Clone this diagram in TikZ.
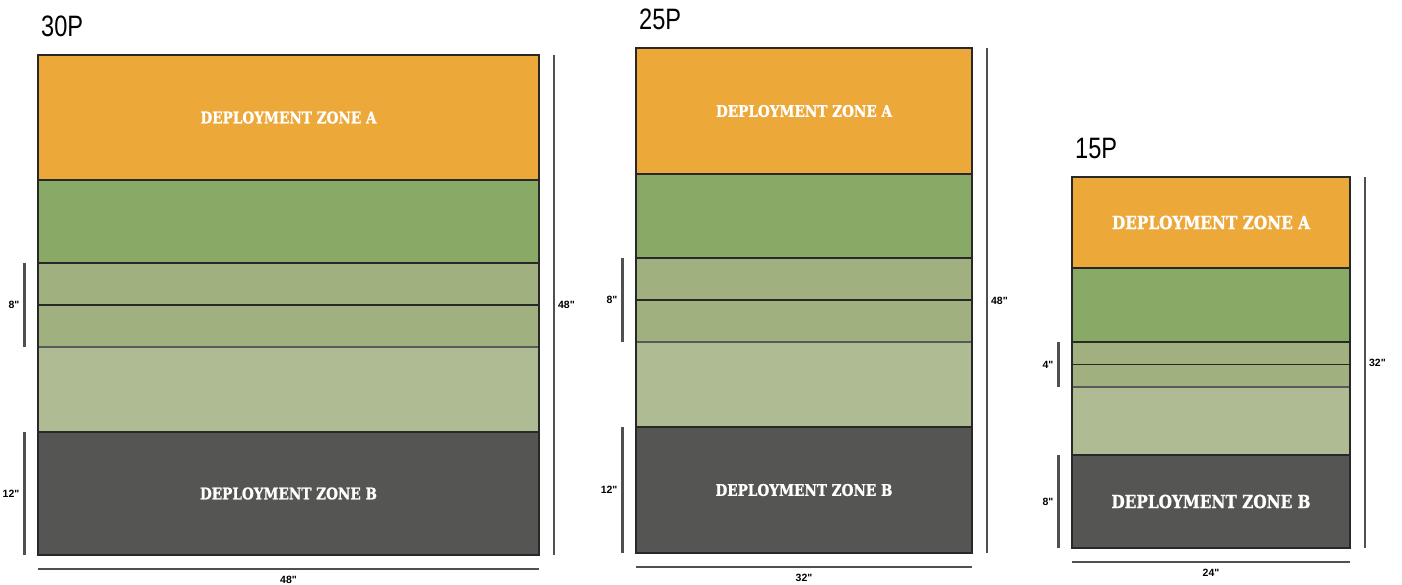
\documentclass[tikz,border=0pt]{standalone}
\usepackage{fontspec}
\usepackage{xcolor}
\usepackage{tikz}
\usetikzlibrary{positioning, calc}
\newfontfamily\titlefont[FakeStretch=0.8]{Liberation Sans}
\newfontfamily\zonefont[FakeStretch=0.85, BoldFeatures={FakeBold=1.2}]{DejaVu Serif}
\newfontfamily\dimfont{Liberation Sans}
\definecolor{zonea}{RGB}{237, 168, 58}
\definecolor{midfield}{RGB}{136, 170, 102}
\definecolor{lanes}{RGB}{160, 176, 126}
\definecolor{openfield}{RGB}{174, 187, 147}
\definecolor{zoneb}{RGB}{85, 85, 84}
\definecolor{edge}{RGB}{40, 40, 40}
\definecolor{dimgray}{RGB}{80, 80, 80}

\begin{document}
\begin{tikzpicture}[
    x=1pt, y=-1pt,
    band/.style={rectangle, inner sep=0pt, outer sep=0pt, minimum width=#1},
    zonetext/.style={text=white, font=\zonefont\bfseries},
    sep/.style={draw=edge, line width=1.4pt},
    softsep/.style={draw=gray!70!black, line width=2.2pt},
    frame/.style={draw=edge, line width=1.7pt},
    dim/.style={draw=dimgray, line width=2.2pt},
    dimlabel/.style={font=\dimfont\bfseries\fontsize{10.5}{11}\selectfont, inner sep=0pt},
    title/.style={font=\titlefont\fontsize{29.5}{30}\selectfont, inner sep=0pt, anchor=base west}
]
    \useasboundingbox (0,0) rectangle (1402,584);

    % name/x/y/width/band heights/font size/dimensions
    \foreach \nm/\lx/\ty/\bw/\ha/\hg/\hl/\hp/\hb/\fs/\dl/\db/\dr/\dw in {
        30/38/55/501/125/83/42/85/123/16/8"/12"/48"/48",
        25/636/48/336/126/84/42/85/126/16/8"/12"/48"/32",
        15/1072/177/278/91/74/22.5/68/93/18/4"/8"/32"/24"} {

        % Bands, top to bottom
        \node[band=\bw, minimum height=\ha, fill=zonea, zonetext, anchor=north west] (za\nm) at (\lx,\ty)
            {\fontsize{\fs}{\fs}\selectfont DEPLOYMENT ZONE A};
        \node[band=\bw, minimum height=\hg, fill=midfield, below=0pt of za\nm] (mid\nm) {};
        \node[band=\bw, minimum height=\hl, fill=lanes, below=0pt of mid\nm] (lnA\nm) {};
        \node[band=\bw, minimum height=\hl, fill=lanes, below=0pt of lnA\nm] (lnB\nm) {};
        \node[band=\bw, minimum height=\hp, fill=openfield, below=0pt of lnB\nm] (opn\nm) {};
        \node[band=\bw, minimum height=\hb, fill=zoneb, zonetext, below=0pt of opn\nm] (zb\nm)
            {\fontsize{\fs}{\fs}\selectfont DEPLOYMENT ZONE B};

        % Separators and outline
        \foreach \b in {za, mid, lnA, opn}
            \draw[sep] (\b\nm.south west) -- (\b\nm.south east);
        \draw[softsep] (lnB\nm.south west) -- (lnB\nm.south east);
        \draw[frame] (za\nm.north west) rectangle (zb\nm.south east);

        % Title
        \node[title] (t\nm) at ([xshift=3pt, yshift=18.5pt]za\nm.north west) {\nm P};

        % Dimensions
        \draw[dim] ([xshift=15pt]za\nm.north east) -- ([xshift=15pt]zb\nm.south east)
            node[midway, right=3pt, dimlabel] (dr\nm) {\dr};
        \draw[dim] ([xshift=-13.5pt]lnA\nm.north west) -- ([xshift=-13.5pt]lnB\nm.south west)
            node[midway, left=4pt, dimlabel] (dl\nm) {\dl};
        \draw[dim] ([xshift=-13.5pt]zb\nm.north west) -- ([xshift=-13.5pt]zb\nm.south west)
            node[midway, left=4pt, dimlabel] (db\nm) {\db};
        \draw[dim] ([yshift=-14pt]zb\nm.south west) -- ([yshift=-14pt]zb\nm.south east)
            node[midway, below=6.5pt, dimlabel] (dw\nm) {\dw};
    }
\end{tikzpicture}
\end{document}
